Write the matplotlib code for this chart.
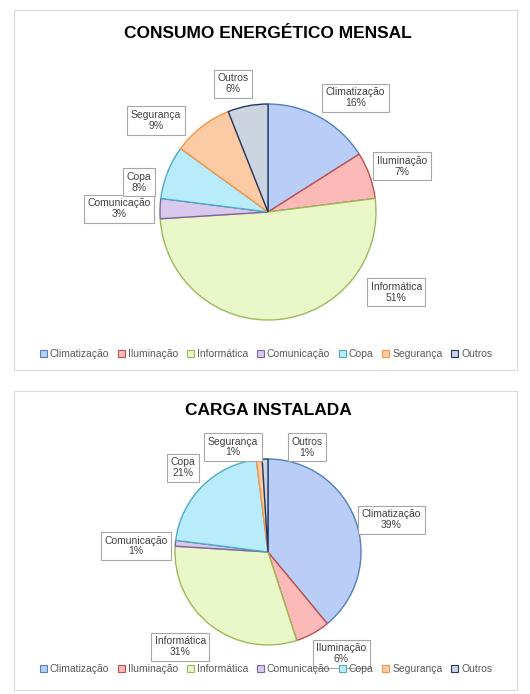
import matplotlib.pyplot as plt
import matplotlib.patches as mpatches
import numpy as np

plt.rcParams['font.family'] = ['Liberation Sans', 'DejaVu Sans']

categories = ['Climatização', 'Iluminação', 'Informática', 'Comunicação', 'Copa', 'Segurança', 'Outros']
consumo = [16, 7, 51, 3, 8, 9, 6]
carga = [39, 6, 31, 1, 21, 1, 1]

fills = ['#b9cdf7', '#fbb9b7', '#e9f7c9', '#d9c9ec', '#b9ecfa', '#fccba3', '#ccd4e0']
edges = ['#4f81bd', '#c0504d', '#9bbb59', '#8064a2', '#4bacc6', '#f79646', '#1f3864']

W, H = 530, 694


def draw_pie(values, cx, cy, r, title, ty, label_dist, label_nudge):
    span = 3.2
    size = r * span
    ax = fig.add_axes([(cx - size / 2) / W, (H - cy - size / 2) / H, size / W, size / H])
    wedges, _ = ax.pie(values, colors=fills, startangle=90, counterclock=False,
                       wedgeprops=dict(linewidth=1.0))
    for w, e in zip(wedges, edges):
        w.set_edgecolor(e)
    cum = np.cumsum([0] + values[:-1])
    for i, v in enumerate(values):
        ang = np.deg2rad(90 - 3.6 * (cum[i] + v / 2) + label_nudge[i])
        d = label_dist[i]
        ax.text(d * np.cos(ang), d * np.sin(ang), f'{categories[i]}\n{v}%',
                ha='center', va='center', fontsize=7.5, color='#404040', linespacing=1.1,
                bbox=dict(boxstyle='square,pad=0.35', fc='white', ec='#a6a6a6', lw=0.8))
    ax.set_xlim(-span / 2, span / 2)
    ax.set_ylim(-span / 2, span / 2)
    ax.set_aspect('equal')
    ax.axis('off')
    fig.text(cx / W, 1 - ty / H, title, ha='center', va='center', fontsize=12.5, fontweight='bold')


fig = plt.figure(figsize=(W / 100, H / 100), dpi=100)

for (y0, y1) in [(10, 370), (391, 690)]:
    fig.patches.append(mpatches.Rectangle((14 / W, 1 - y1 / H), 503 / W, (y1 - y0) / H,
                                          transform=fig.transFigure, fill=False,
                                          ec='#d9d9d9', lw=0.8))

draw_pie(consumo, 268, 212, 108, 'CONSUMO ENERGÉTICO MENSAL', 33,
         [1.33, 1.31, 1.4, 1.38, 1.23, 1.34, 1.23],
         [-8.6, -1, 52.6, 0.6, 8.6, 13, 4.5])
draw_pie(carga, 268, 552, 93, 'CARGA INSTALADA', 411,
         [1.37, 1.35, 1.39, 1.42, 1.29, 1.19, 1.2],
         [-5.2, 7, -5, 2.8, 0.3, 13, -22.2])

handles = [mpatches.Patch(fc=f, ec=e, lw=0.8) for f, e in zip(fills, edges)]
for ly in [354, 669]:
    fig.legend(handles, categories, loc='center', bbox_to_anchor=(266 / W, 1 - ly / H),
               ncol=7, frameon=False, fontsize=7.5, handlelength=0.7, handleheight=0.7,
               handletextpad=0.3, columnspacing=0.8, labelcolor='#595959')

fig.savefig('out.png', dpi=100)
